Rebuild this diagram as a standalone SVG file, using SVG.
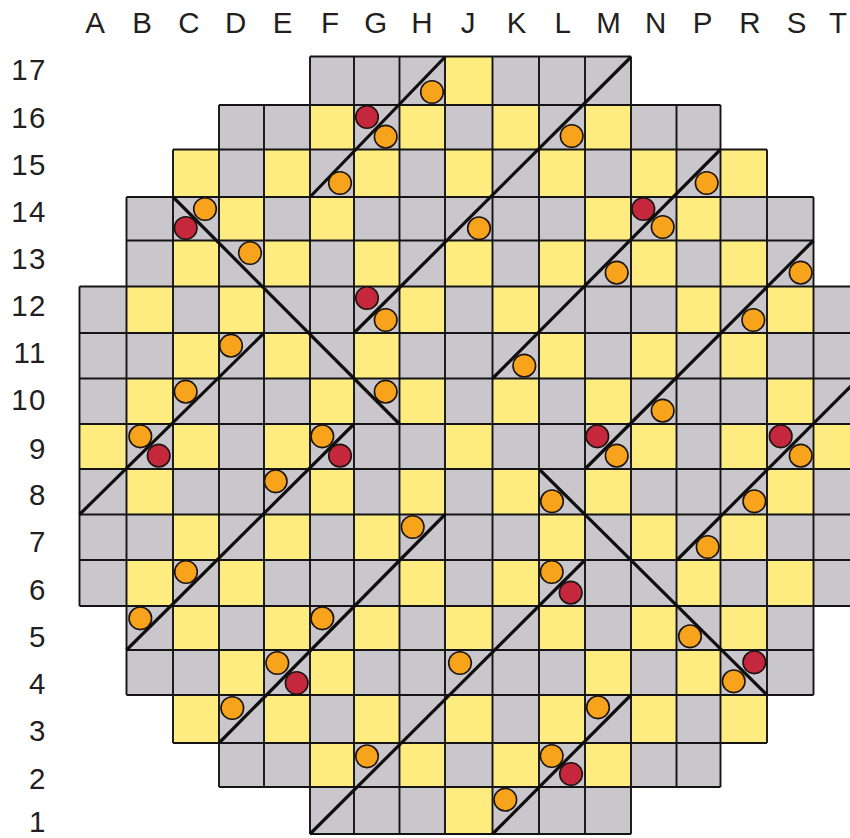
<svg xmlns="http://www.w3.org/2000/svg" width="850" height="838" viewBox="0 0 850 838">
<style>
text{font-family:"Liberation Sans",Arial,sans-serif;font-size:29.5px;fill:#231f20}
#cols text{text-anchor:middle}
#rows text{text-anchor:end;letter-spacing:1.5px}
.y{fill:#ffec80}
.g{fill:#c9c7cc}
.grid{fill:none;stroke:#141414;stroke-width:1.9}
.d{fill:none;stroke:#0e0e0e;stroke-width:3.2}
.o{fill:#f8a31c;stroke:#1c1410;stroke-width:1.6}
.r{fill:#c5283d;stroke:#1c1410;stroke-width:1.6}
</style>
<rect width="850" height="838" fill="#fff"/>
<g id="cols">
<text x="95" y="33">A</text><text x="142" y="33">B</text><text x="189" y="33">C</text><text x="235.7" y="33">D</text><text x="282.7" y="33">E</text><text x="330" y="33">F</text><text x="375.7" y="33">G</text><text x="422" y="33">H</text><text x="468" y="33">J</text><text x="516.7" y="33">K</text><text x="562.7" y="33">L</text><text x="608.5" y="33">M</text><text x="655.7" y="33">N</text><text x="702.7" y="33">P</text><text x="750" y="33">R</text><text x="796.7" y="33">S</text><text x="838" y="33">T</text>
</g>
<g id="rows">
<text x="47" y="80">17</text><text x="47" y="127.5">16</text><text x="47" y="174.5">15</text><text x="47" y="221.5">14</text><text x="47" y="269">13</text><text x="47" y="316">12</text><text x="47" y="363">11</text><text x="47" y="410">10</text><text x="47" y="458.5">9</text><text x="47" y="504.5">8</text><text x="47" y="552">7</text><text x="47" y="599.5">6</text><text x="47" y="646.5">5</text><text x="47" y="694">4</text><text x="47" y="741">3</text><text x="47" y="788.5">2</text><text x="47" y="831.5">1</text>
</g>
<path id="core" class="g" d="M310 56.5H631V105H720.5V149.5H767V197H813.5V286.5H860V606H813.5V695H767V743H720.5V787H631V834H310V787H219V743H173V695H126.5V606H79.5V286.5H126.5V197H173V149.5H219V105H310Z"/>
<g id="yellow" class="y">
<rect x="445" y="56.5" width="47.5" height="48.5"/>
<rect x="310" y="105" width="44" height="44.5"/><rect x="399.5" y="105" width="45.5" height="44.5"/><rect x="492.5" y="105" width="46.5" height="44.5"/><rect x="585" y="105" width="46" height="44.5"/>
<rect x="173" y="149.5" width="46" height="47.5"/><rect x="264" y="149.5" width="46" height="47.5"/><rect x="354" y="149.5" width="45.5" height="47.5"/><rect x="445" y="149.5" width="47.5" height="47.5"/><rect x="539" y="149.5" width="46" height="47.5"/><rect x="631" y="149.5" width="45.5" height="47.5"/><rect x="720.5" y="149.5" width="46.5" height="47.5"/>
<rect x="219" y="197" width="45" height="43.5"/><rect x="310" y="197" width="44" height="43.5"/><rect x="585" y="197" width="46" height="43.5"/><rect x="676.5" y="197" width="44" height="43.5"/>
<rect x="173" y="240.5" width="46" height="46"/><rect x="264" y="240.5" width="46" height="46"/><rect x="354" y="240.5" width="45.5" height="46"/><rect x="445" y="240.5" width="47.5" height="46"/><rect x="539" y="240.5" width="46" height="46"/><rect x="631" y="240.5" width="45.5" height="46"/><rect x="720.5" y="240.5" width="46.5" height="46"/>
<rect x="126.5" y="286.5" width="46.5" height="46.5"/><rect x="219" y="286.5" width="45" height="46.5"/><rect x="399.5" y="286.5" width="45.5" height="46.5"/><rect x="492.5" y="286.5" width="46.5" height="46.5"/><rect x="676.5" y="286.5" width="44" height="46.5"/><rect x="767" y="286.5" width="46.5" height="46.5"/>
<rect x="173" y="333" width="46" height="45.5"/><rect x="264" y="333" width="46" height="45.5"/><rect x="354" y="333" width="45.5" height="45.5"/><rect x="539" y="333" width="46" height="45.5"/><rect x="631" y="333" width="45.5" height="45.5"/><rect x="720.5" y="333" width="46.5" height="45.5"/>
<rect x="126.5" y="378.5" width="46.5" height="45.5"/><rect x="310" y="378.5" width="44" height="45.5"/><rect x="399.5" y="378.5" width="45.5" height="45.5"/><rect x="492.5" y="378.5" width="46.5" height="45.5"/><rect x="585" y="378.5" width="46" height="45.5"/><rect x="767" y="378.5" width="46.5" height="45.5"/>
<rect x="79.5" y="424" width="47" height="45"/><rect x="173" y="424" width="46" height="45"/><rect x="264" y="424" width="46" height="45"/><rect x="445" y="424" width="47.5" height="45"/><rect x="631" y="424" width="45.5" height="45"/><rect x="720.5" y="424" width="46.5" height="45"/><rect x="813.5" y="424" width="46.5" height="45"/>
<rect x="126.5" y="469" width="46.5" height="45.5"/><rect x="310" y="469" width="44" height="45.5"/><rect x="399.5" y="469" width="45.5" height="45.5"/><rect x="492.5" y="469" width="46.5" height="45.5"/><rect x="585" y="469" width="46" height="45.5"/><rect x="767" y="469" width="46.5" height="45.5"/>
<rect x="173" y="514.5" width="46" height="45.5"/><rect x="264" y="514.5" width="46" height="45.5"/><rect x="354" y="514.5" width="45.5" height="45.5"/><rect x="539" y="514.5" width="46" height="45.5"/><rect x="631" y="514.5" width="45.5" height="45.5"/><rect x="720.5" y="514.5" width="46.5" height="45.5"/>
<rect x="126.5" y="560" width="46.5" height="46"/><rect x="219" y="560" width="45" height="46"/><rect x="399.5" y="560" width="45.5" height="46"/><rect x="492.5" y="560" width="46.5" height="46"/><rect x="676.5" y="560" width="44" height="46"/><rect x="767" y="560" width="46.5" height="46"/>
<rect x="173" y="606" width="46" height="44"/><rect x="264" y="606" width="46" height="44"/><rect x="354" y="606" width="45.5" height="44"/><rect x="445" y="606" width="47.5" height="44"/><rect x="539" y="606" width="46" height="44"/><rect x="631" y="606" width="45.5" height="44"/><rect x="720.5" y="606" width="46.5" height="44"/>
<rect x="219" y="650" width="45" height="45"/><rect x="310" y="650" width="44" height="45"/><rect x="585" y="650" width="46" height="45"/><rect x="676.5" y="650" width="44" height="45"/>
<rect x="173" y="695" width="46" height="48"/><rect x="264" y="695" width="46" height="48"/><rect x="354" y="695" width="45.5" height="48"/><rect x="445" y="695" width="47.5" height="48"/><rect x="539" y="695" width="46" height="48"/><rect x="631" y="695" width="45.5" height="48"/><rect x="720.5" y="695" width="46.5" height="48"/>
<rect x="310" y="743" width="44" height="44"/><rect x="399.5" y="743" width="45.5" height="44"/><rect x="492.5" y="743" width="46.5" height="44"/><rect x="585" y="743" width="46" height="44"/>
<rect x="445" y="787" width="47.5" height="47"/>
</g>
<path id="grid" class="grid" d="M310 56.5H631M219 105H720.5M173 149.5H767M126.5 197H813.5M126.5 240.5H813.5M79.5 286.5H860M79.5 333H860M79.5 378.5H860M79.5 424H860M79.5 469H860M79.5 514.5H860M79.5 560H860M79.5 606H860M126.5 650H813.5M126.5 695H813.5M173 743H767M219 787H720.5M310 834H631M79.5 286.5V606M126.5 197V695M173 149.5V743M219 105V787M264 105V787M310 56.5V834M354 56.5V834M399.5 56.5V834M445 56.5V834M492.5 56.5V834M539 56.5V834M585 56.5V834M631 56.5V834M676.5 105V787M720.5 105V787M767 149.5V743M813.5 197V695"/>
<g id="connectors" class="d">
<path d="M310 197L445 57"/>
<path d="M354 333L631 57"/>
<path d="M492.5 378.5L720.5 149.5"/>
<path d="M585 469L813.5 240.5"/>
<path d="M677 560L852 385"/>
<path d="M79.5 514.5L264 333"/>
<path d="M126.5 650L354 424"/>
<path d="M219 743L445 514.5"/>
<path d="M310 834L585 560"/>
<path d="M492.5 834L631 695"/>
<path d="M173 197L399.5 424"/>
<path d="M539 469L767 695"/>
</g>
<g id="orange" class="o">
<circle cx="432" cy="92" r="11.3"/><circle cx="385.7" cy="136.7" r="11.3"/><circle cx="340" cy="183" r="11.3"/><circle cx="205" cy="209" r="11.3"/><circle cx="250" cy="253" r="11.3"/><circle cx="385.7" cy="320" r="11.3"/><circle cx="231" cy="345.7" r="11.3"/><circle cx="185.7" cy="391.7" r="11.3"/><circle cx="385.7" cy="391.7" r="11.3"/>
<circle cx="571.7" cy="136" r="11.3"/><circle cx="706.7" cy="183" r="11.3"/><circle cx="662.7" cy="227" r="11.3"/><circle cx="479" cy="228.3" r="11.3"/><circle cx="616.7" cy="272.7" r="11.3"/><circle cx="800.7" cy="272.7" r="11.3"/><circle cx="753.3" cy="320" r="11.3"/><circle cx="524.3" cy="365.7" r="11.3"/><circle cx="662.7" cy="410.7" r="11.3"/>
<circle cx="140.3" cy="436.3" r="11.3"/><circle cx="322.3" cy="436.3" r="11.3"/><circle cx="275.7" cy="481.3" r="11.3"/><circle cx="412.7" cy="527" r="11.3"/><circle cx="186" cy="572" r="11.3"/><circle cx="140.3" cy="618.3" r="11.3"/><circle cx="322.3" cy="618.3" r="11.3"/><circle cx="277.3" cy="663" r="11.3"/><circle cx="232.3" cy="708" r="11.3"/><circle cx="367" cy="756.3" r="11.3"/>
<circle cx="616.7" cy="455.7" r="11.3"/><circle cx="800.7" cy="455.7" r="11.3"/><circle cx="552" cy="501.3" r="11.3"/><circle cx="754.3" cy="501.3" r="11.3"/><circle cx="707.7" cy="547" r="11.3"/><circle cx="551.7" cy="572" r="11.3"/><circle cx="690" cy="636.3" r="11.3"/><circle cx="733.7" cy="681.3" r="11.3"/><circle cx="460" cy="663" r="11.3"/><circle cx="598" cy="707.3" r="11.3"/><circle cx="551.7" cy="756" r="11.3"/><circle cx="505.3" cy="799.7" r="11.3"/>
</g>
<g id="red" class="r">
<circle cx="367" cy="117" r="11.3"/><circle cx="185.7" cy="228" r="11.3"/><circle cx="367" cy="298" r="11.3"/><circle cx="643.3" cy="209" r="11.3"/><circle cx="158.7" cy="455.7" r="11.3"/><circle cx="340" cy="455.7" r="11.3"/><circle cx="296.7" cy="683" r="11.3"/><circle cx="597.3" cy="436.3" r="11.3"/><circle cx="780.7" cy="436.3" r="11.3"/><circle cx="570.7" cy="592.7" r="11.3"/><circle cx="754.3" cy="662.3" r="11.3"/><circle cx="571" cy="774" r="11.3"/>
</g>
</svg>
